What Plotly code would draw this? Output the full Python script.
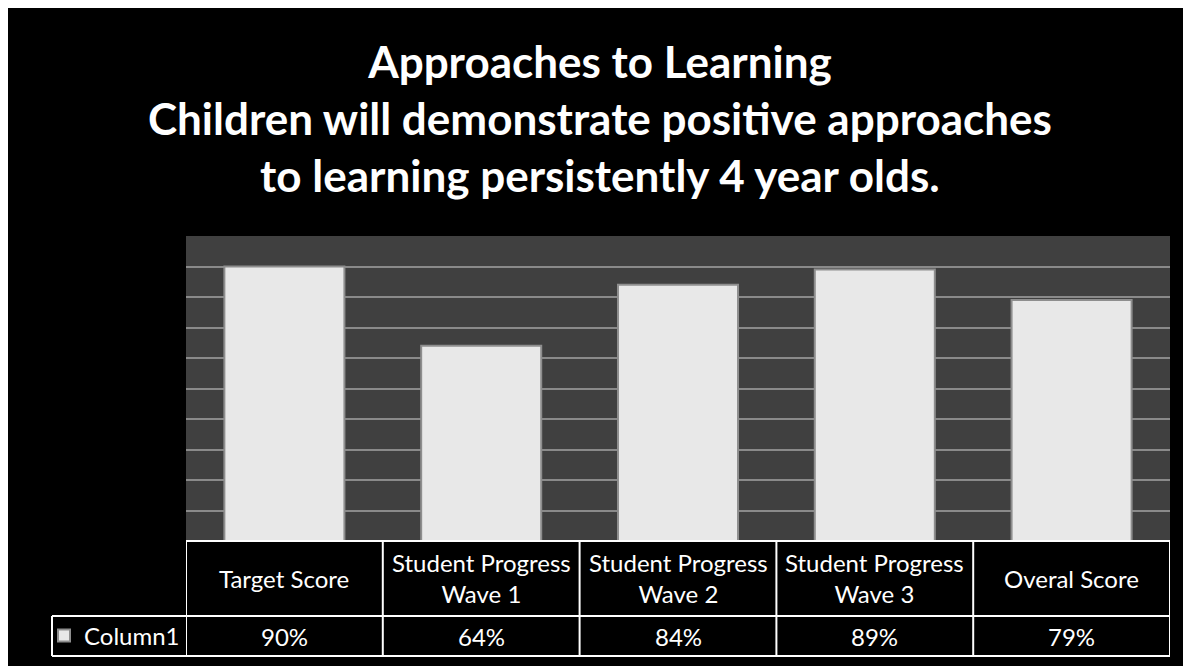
# Approaches to Learning - bar chart with data table underneath

import plotly.graph_objects as go

categories = ['Target Score', 'Student Progress<br>Wave 1', 'Student Progress<br>Wave 2',
              'Student Progress<br>Wave 3', 'Overal Score']
column1 = [0.90, 0.64, 0.84, 0.89, 0.79]
series_name = 'Column1'
title_lines = ['Approaches to Learning',
               'Children will demonstrate positive approaches',
               'to learning persistently 4 year olds.']

# figure geometry (pixels); the page adds an 8px body margin
W, H = 1191, 666
L, R, T, B = 178, 29, 228, 133
PW, PH = W - L - R, H - T - B
OFF = 8


def px_x(px):
    # page pixel -> paper x
    return (px - OFF - L) / PW


def px_y(py):
    # page pixel -> paper y
    return (H - B - (py - OFF)) / PH


FONT = 'Lato'
x_idx = list(range(len(categories)))

fig = go.Figure()

fig.add_trace(go.Bar(
    name=series_name,
    x=x_idx,
    y=column1,
    marker=dict(color='#e8e8e8', line=dict(color='#8e8e8e', width=2)),
    showlegend=True,
))

# table grid
row_top, row_mid, row_bot = 0, px_y(616), px_y(656)
line = dict(color='white', width=2)
shapes = [dict(type='line', xref='paper', yref='paper', x0=0, x1=1, y0=row_top, y1=row_top, line=line)]
for yy in (row_mid, row_bot):
    shapes.append(dict(type='line', xref='paper', yref='paper', x0=px_x(52), x1=1, y0=yy, y1=yy, line=line))
shapes.append(dict(type='line', xref='paper', yref='paper', x0=px_x(52), x1=px_x(52),
                   y0=row_bot, y1=row_mid, line=line))
for i in range(len(categories) + 1):
    shapes.append(dict(type='line', xref='x', yref='paper', x0=i - 0.5, x1=i - 0.5,
                       y0=row_bot, y1=row_top, line=line))

annotations = []
for i, cat in enumerate(categories):
    annotations.append(dict(x=i, xref='x', y=px_y(578), yref='paper',
                            text=cat, showarrow=False, yanchor='middle',
                            font=dict(family=FONT, size=24, color='white')))
    annotations.append(dict(x=i, xref='x', y=px_y(636), yref='paper',
                            text=f'{column1[i]:.0%}', showarrow=False, yanchor='middle',
                            font=dict(family=FONT, size=24, color='white')))

fig.update_layout(
    width=W, height=H,
    margin=dict(l=L, r=R, t=T, b=B),
    paper_bgcolor='black',
    plot_bgcolor='#404040',
    title=dict(text='<br>'.join(title_lines), x=0.497, xanchor='center', y=0.895, yanchor='middle',
               font=dict(family=FONT, size=44, color='white', weight='bold')),
    xaxis=dict(range=[-0.5, len(categories) - 0.5], showticklabels=False, showgrid=False,
               zeroline=False, showline=False, ticks=''),
    yaxis=dict(range=[0, 1], dtick=0.1, showticklabels=False, showgrid=True,
               gridcolor='#8a8a8a', gridwidth=1.5, zeroline=False, showline=False, ticks=''),
    bargap=0.39,
    legend=dict(x=px_x(44), y=px_y(636), xanchor='left', yanchor='middle',
                bgcolor='rgba(0,0,0,0)', font=dict(family=FONT, size=24, color='white')),
    shapes=shapes,
    annotations=annotations,
)

fig.write_html('out.html')
